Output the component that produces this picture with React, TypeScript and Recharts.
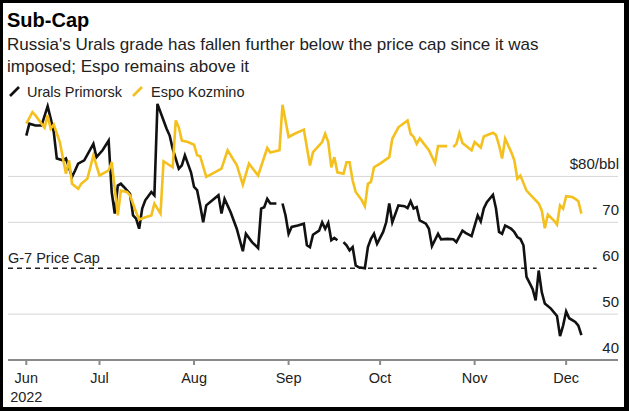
import React from 'react';
import { LineChart, Line, XAxis, YAxis, ReferenceLine } from 'recharts';

const uralsDates = [
  '6/7', '6/8', '6/10', '6/12', '6/14', '6/15', '6/16', '6/17', '6/19', '6/20', '6/22', '6/23', '6/24', '6/26', '6/29', '6/30',
  '7/2', '7/4', '7/5', '7/6', '7/7', '7/8', '7/9', '7/11', '7/12', '7/13', '7/14', '7/15', '7/16', '7/18', '7/19', '7/20',
  '7/22', '7/23', '7/24', '7/25', '7/27', '7/28', '7/29', '7/31',
  '8/1', '8/2', '8/3', '8/4', '8/5', '8/7', '8/9', '8/10', '8/11', '8/13', '8/15', '8/17', '8/18', '8/20', '8/22', '8/23',
  '8/24', '8/25', '8/26', '8/28', '8/29', '8/30', '8/31',
  '9/1', '9/2', '9/4', '9/6', '9/7', '9/8', '9/9', '9/11', '9/12', '9/13', '9/14', '9/15', '9/16', '9/17', '9/18', '9/19',
  '9/20', '9/21', '9/22', '9/23', '9/24', '9/26', '9/27', '9/28', '9/29', '9/30',
  '10/2', '10/3', '10/4', '10/5', '10/7', '10/9', '10/10', '10/11', '10/12', '10/13', '10/14', '10/16', '10/17', '10/18',
  '10/20', '10/21', '10/23', '10/25', '10/26', '10/28', '10/29', '10/31',
  '11/2', '11/3', '11/4', '11/5', '11/7', '11/8', '11/9', '11/10', '11/11', '11/13', '11/14', '11/15', '11/16', '11/17',
  '11/18', '11/20', '11/21', '11/22', '11/23', '11/24', '11/26', '11/28', '11/29', '11/30',
  '12/1', '12/2', '12/4', '12/5', '12/6',
];
const uralsPrices = [
  88.9, 91.5, 91.1, 91.1, 95.3, 92.6, 89.7, 83.9, 83.5, 83.9, 79.9, 81.3, 82.8, 83.5, 87.1, 84.2,
  85.7, 87.8, 76.6, 71.9, 78.0, 78.4, 77.7, 76.2, 71.5, 70.8, 68.6, 73.0, 74.8, 76.6, 75.9, 95.8,
  92.2, 90.4, 88.9, 86.0, 81.7, 82.4, 84.6, 80.9,
  77.7, 77.0, 73.7, 70.0, 73.7, 74.8, 75.9, 71.9, 75.1, 72.2, 68.6, 63.7, 67.5, 65.7, 64.4, 73.0,
  73.3, 75.1, 74.1, 74.1, null, 74.1, 71.5,
  67.5, 69.0, 69.3, 69.7, 65.0, 64.6, 67.3, 68.2, 70.0, 68.6, 69.9, 66.1, 66.6, 66.1, null, 65.7,
  65.0, 63.9, 64.6, 60.6, 60.2, 60.0, 64.6, 66.4, 67.5, 65.3,
  67.9, 70.0, 74.1, 70.0, 73.7, 73.5, 73.1, 74.6, 73.0, 73.3, 70.4, 69.7, 68.6, 64.8,
  67.5, 66.3, 66.4, 66.3, 65.7, 68.2, 67.7, 67.0,
  71.5, 70.2, 73.0, 74.4, 76.0, 73.0, 67.9, 67.5, 69.3, 68.6, 67.9, 66.8, 66.4, 65.0,
  58.1, 55.5, 53.0, 59.5, 54.8, 52.3, 51.2, 49.6, 45.2, 47.5,
  50.6, 49.1, 48.3, 47.5, 45.4,
];

const espoDates = [
  '6/7', '6/9', '6/10', '6/12', '6/13', '6/14', '6/15', '6/16', '6/18', '6/20', '6/21', '6/22', '6/24', '6/25', '6/27', '6/28', '6/29',
  '7/1', '7/4', '7/5', '7/6', '7/7', '7/8', '7/10', '7/11', '7/13', '7/14', '7/16', '7/18', '7/19', '7/21', '7/22', '7/25',
  '7/26', '7/27', '7/28', '7/30',
  '8/1', '8/2', '8/3', '8/5', '8/7', '8/10', '8/12', '8/15', '8/17', '8/19', '8/22', '8/25', '8/26', '8/29', '8/30',
  '9/1', '9/3', '9/6', '9/8', '9/9', '9/12', '9/13', '9/14', '9/15', '9/16', '9/17', '9/19', '9/20', '9/21', '9/22', '9/23',
  '9/25', '9/26', '9/27', '9/28', '9/29',
  '10/1', '10/4', '10/5', '10/7', '10/10', '10/11', '10/12', '10/13', '10/14', '10/17', '10/19', '10/20', '10/23', '10/24',
  '10/25', '10/26', '10/27', '10/28', '10/31',
  '11/1', '11/3', '11/4', '11/7', '11/8', '11/9', '11/10', '11/11', '11/13', '11/14', '11/15', '11/16', '11/18', '11/20',
  '11/22', '11/23', '11/24', '11/25', '11/27', '11/28', '11/29', '11/30',
  '12/1', '12/3', '12/4', '12/5', '12/6',
];
const espoPrices = [
  91.5, 94.0, 93.3, 91.5, 90.6, 93.3, 90.4, 91.3, 87.5, 80.6, 83.5, 78.4, 77.3, 78.4, 79.5, 82.0, 84.6,
  80.2, 81.3, 83.1, 77.3, 71.5, 76.9, 76.6, 75.9, 72.2, 70.6, 71.1, 71.5, 74.1, 71.9, 83.3, 82.0,
  92.2, 90.7, 87.8, 87.5,
  86.9, 84.6, 84.4, 79.9, 80.6, 81.7, 85.7, 82.5, 78.2, 82.8, 80.2, 86.2, 85.2, 85.7, 95.6,
  88.6, 89.3, 90.2, 82.4, 85.3, 87.5, 89.3, 87.5, 82.0, 84.2, 80.9, 80.6, 83.1, 83.1, 79.1, 76.6,
  74.8, 73.5, 78.4, 78.8, 82.0,
  82.8, 84.2, 88.2, 90.7, 92.2, 89.3, 88.6, 87.1, 88.3, 85.7, 82.9, 86.6, 86.6, null,
  86.4, 87.1, 89.5, 87.3, 85.7,
  87.5, 86.3, 88.7, 89.5, 89.0, 86.8, 83.9, 88.2, 85.3, 83.5, 79.5, 80.2, 76.9, 75.5,
  74.1, 72.6, 68.7, 71.7, 70.4, 69.5, 73.7, 73.0,
  75.7, 75.5, 75.1, 74.6, 71.9,
];

const monthTickDates = ['6/7', '7/1', '8/1', '9/1', '10/1', '11/1', '12/1'];
const monthLabels = ['Jun', 'Jul', 'Aug', 'Sep', 'Oct', 'Nov', 'Dec'];
const yTicks = [40, 50, 60, 70, 80];
const gridValues = [50, 70, 80];
const priceCap = 60;

const dayOf = (s: string) => {
  const [m, d] = s.split('/').map(Number);
  return (Date.UTC(2022, m - 1, d) - Date.UTC(2022, 5, 7)) / 86400000;
};

const uralsData = uralsDates.map((d, i) => ({ day: dayOf(d), value: uralsPrices[i] }));
const espoData = espoDates.map((d, i) => ({ day: dayOf(d), value: espoPrices[i] }));
const monthTicks = monthTickDates.map(dayOf);

const FONT = '"Liberation Sans", Arial, sans-serif';
const BLACK = '#111111';
const YELLOW = '#f4c01e';

const XTick = (props: any) => {
  const { x, y, payload, index } = props;
  const i = monthTicks.indexOf(payload.value);
  return (
    <g>
      <text x={x} y={y + 18} textAnchor="middle" fontSize={14.5} fill="#222" fontFamily={FONT}>
        {monthLabels[i]}
      </text>
      {index === 0 && (
        <text x={x} y={y + 37} textAnchor="middle" fontSize={14.5} fill="#222" fontFamily={FONT}>
          2022
        </text>
      )}
    </g>
  );
};

const YTick = (props: any) => {
  const { x, y, payload } = props;
  const label = payload.value === 80 ? '$80/bbl' : String(payload.value);
  return (
    <text x={x + 1} y={y - 7} textAnchor="end" fontSize={15} fill="#222" fontFamily={FONT}>
      {label}
    </text>
  );
};

export default function App() {
  return (
    <div style={{ position: 'absolute', left: 0, top: 0, width: 629, height: 411, background: '#fff', fontFamily: FONT }}>
      <LineChart width={629} height={411} margin={{ top: 103, right: 10, bottom: 21, left: 8 }}>
        <XAxis
          type="number"
          dataKey="day"
          domain={[-6, 194]}
          ticks={monthTicks}
          allowDataOverflow
          stroke="#8a8a8a"
          strokeWidth={2}
          tickSize={5}
          tickMargin={0}
          height={30}
          tick={<XTick />}
        />
        <YAxis
          orientation="right"
          type="number"
          domain={[40, 96]}
          ticks={yTicks}
          width={1}
          axisLine={false}
          tickLine={false}
          tickSize={0}
          tickMargin={0}
          tick={<YTick />}
        />
        {gridValues.map((v) => (
          <ReferenceLine key={v} y={v} stroke="#d6d6d6" strokeWidth={1} />
        ))}
        <ReferenceLine
          segment={[{ x: -6, y: priceCap }, { x: 187, y: priceCap }]}
          stroke="#222"
          strokeWidth={1.5}
          strokeDasharray="5 4"
        />
        <Line
          data={uralsData}
          dataKey="value"
          type="linear"
          stroke={BLACK}
          strokeWidth={2.6}
          dot={false}
          connectNulls={false}
          isAnimationActive={false}
        />
        <Line
          data={espoData}
          dataKey="value"
          type="linear"
          stroke={YELLOW}
          strokeWidth={2.6}
          dot={false}
          connectNulls={false}
          isAnimationActive={false}
        />
      </LineChart>
      <svg width={629} height={411} style={{ position: 'absolute', left: 0, top: 0, pointerEvents: 'none' }}>
        <text x={7} y={27} fontSize={20} fontWeight="bold" fill="#000" fontFamily={FONT}>Sub-Cap</text>
        <text x={7} y={50} fontSize={17} fill="#222" fontFamily={FONT}>
          Russia's Urals grade has fallen further below the price cap since it was
        </text>
        <text x={7} y={72} fontSize={17} fill="#222" fontFamily={FONT}>imposed; Espo remains above it</text>
        <line x1={10} y1={96} x2={19} y2={87} stroke={BLACK} strokeWidth={2.6} />
        <text x={27} y={97} fontSize={14.5} fill="#222" fontFamily={FONT}>Urals Primorsk</text>
        <line x1={133} y1={96} x2={142} y2={87} stroke={YELLOW} strokeWidth={2.6} />
        <text x={151} y={97} fontSize={14.5} fill="#222" fontFamily={FONT}>Espo Kozmino</text>
        <text x={8} y={263} fontSize={14.5} fill="#222" fontFamily={FONT}>G-7 Price Cap</text>
      </svg>
      <div
        style={{
          position: 'absolute',
          left: 0,
          top: 0,
          width: 629,
          height: 411,
          boxSizing: 'border-box',
          borderStyle: 'solid',
          borderColor: '#000',
          borderWidth: '3px 5px 4px 3px',
          pointerEvents: 'none',
        }}
      />
    </div>
  );
}
